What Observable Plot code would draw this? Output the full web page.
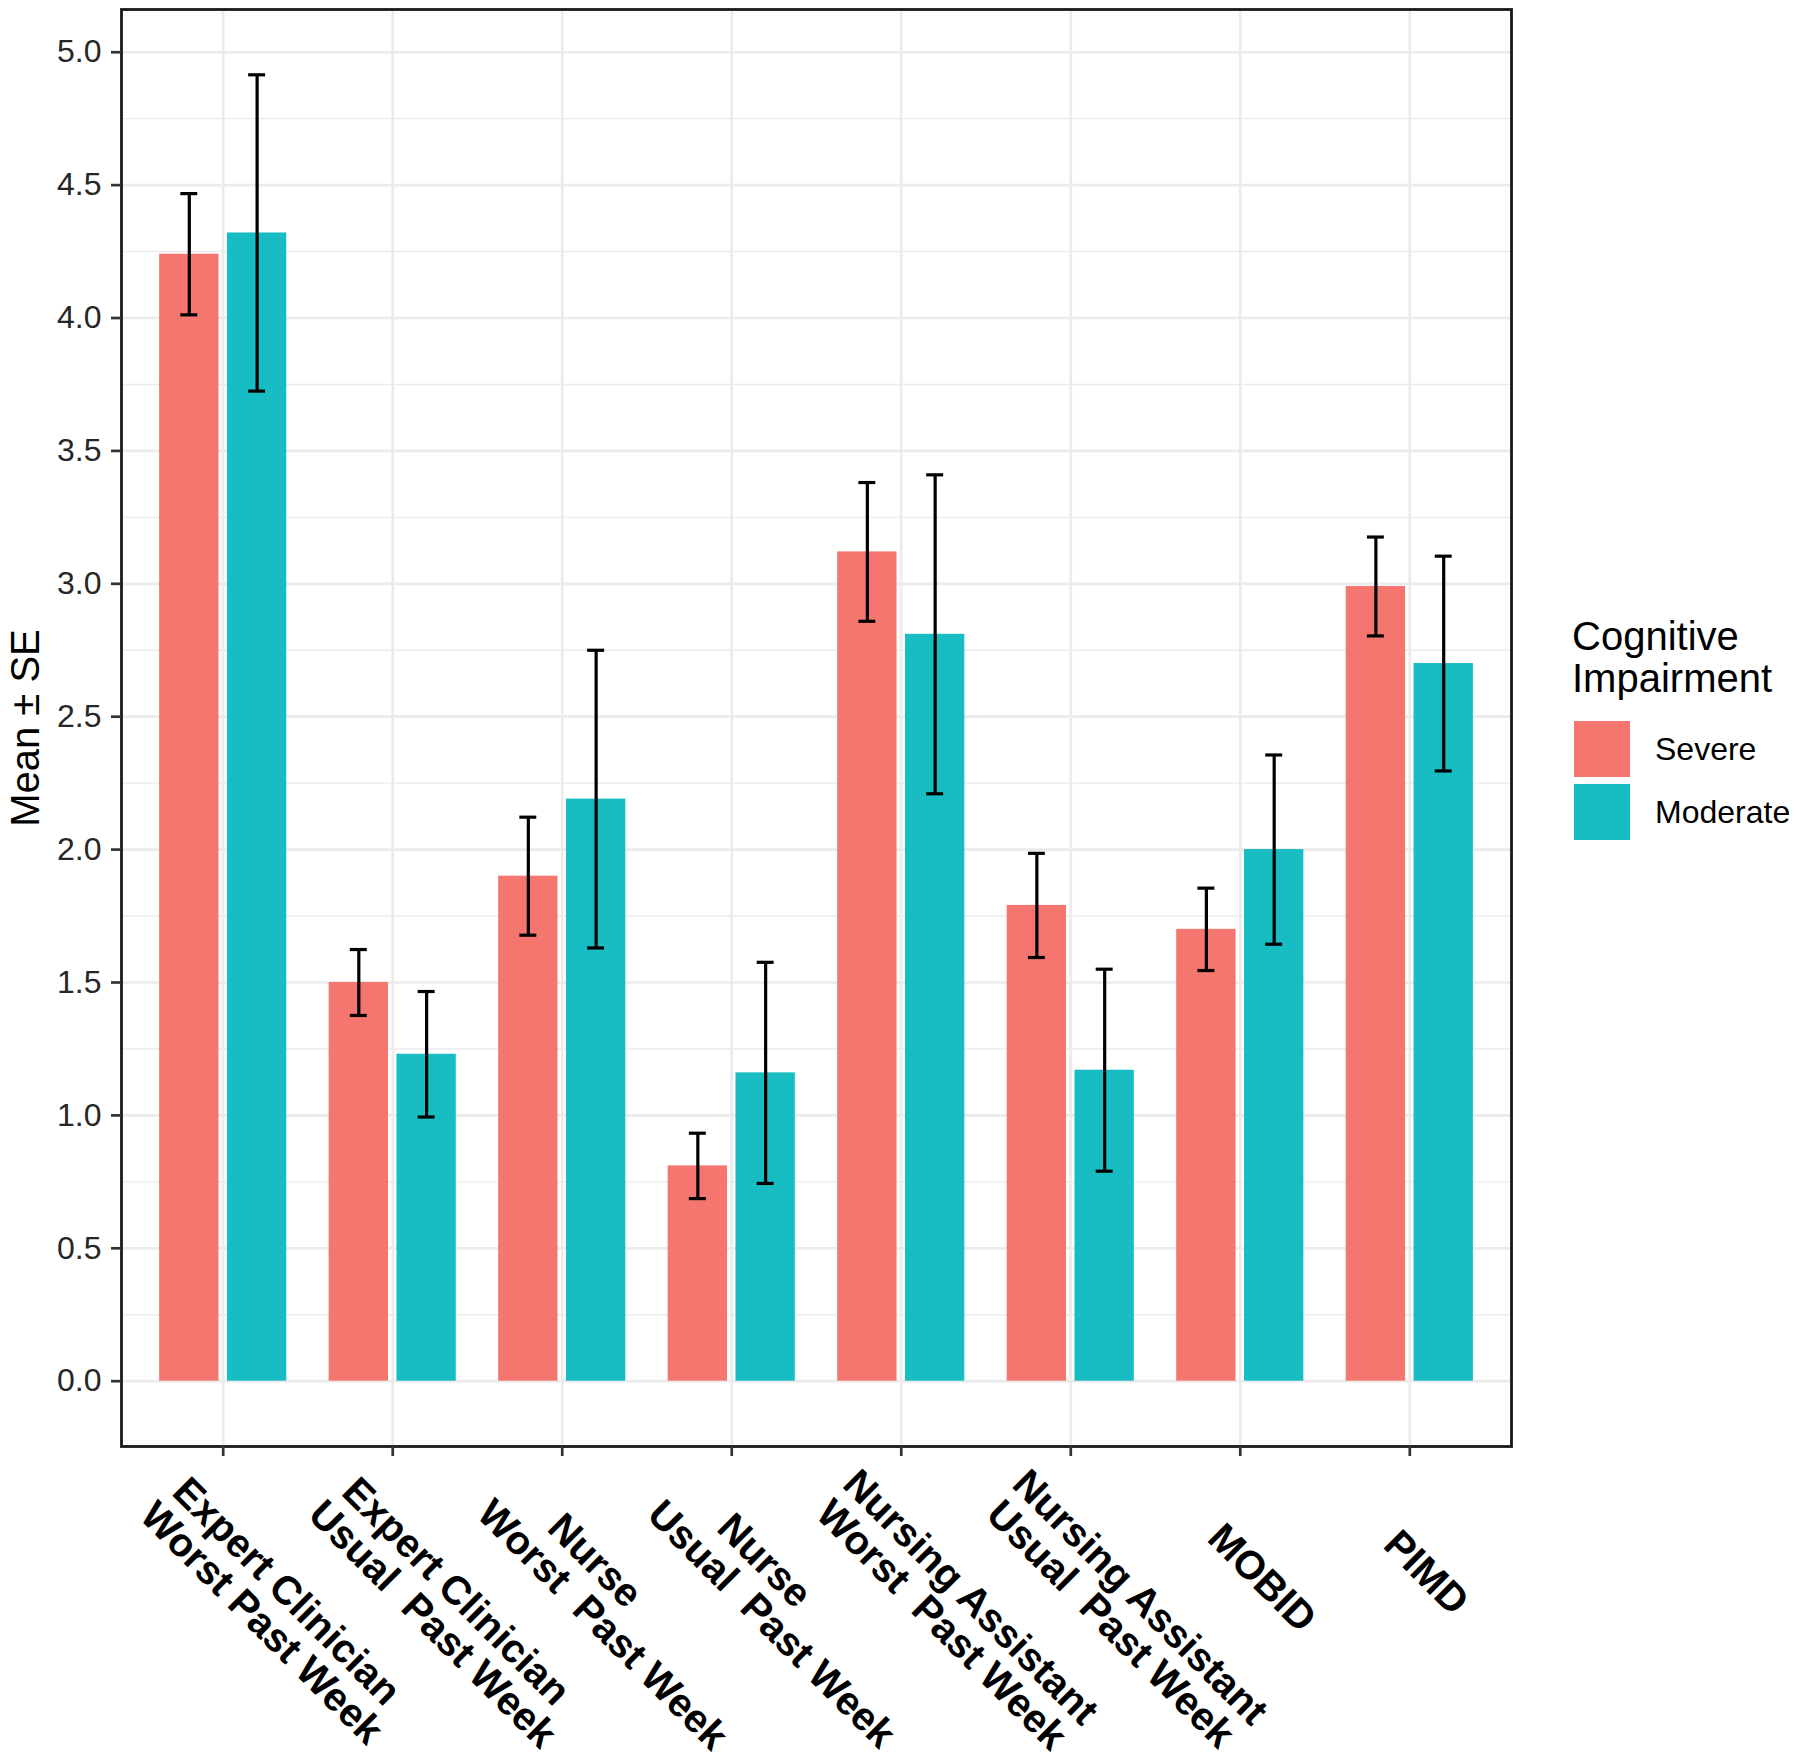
<!DOCTYPE html>
<html>
<head>
<meta charset="utf-8">
<script src="https://cdn.jsdelivr.net/npm/d3@7"></script>
<script src="https://cdn.jsdelivr.net/npm/@observablehq/plot@0.6"></script>
<style>
  html, body { margin: 0; padding: 0; background: #fff; }
  #wrap { position: relative; width: 1800px; height: 1759px; font-family: "Liberation Sans", Arial, sans-serif; }
  #chart { position: absolute; left: 0; top: 0; }
  svg text { white-space: pre; }
  #legend { position: absolute; left: 1572px; top: 615px; color: #000; }
  #legend .title { font-size: 40px; line-height: 42px; }
  #legend .row { display: flex; align-items: center; height: 56px; margin-top: 7px; }
  #legend .row:first-of-type { margin-top: 0; }
  #legend .key { width: 56px; height: 56px; margin-left: 2px; }
  #legend .lab { font-size: 32px; margin-left: 25px; }
</style>
</head>
<body>
<div id="wrap">
  <div id="chart"></div>
  <div id="legend"></div>
</div>
<script>
// ---------- data ----------
const categories = [
  "Expert Clinician\nWorst Past Week",
  "Expert Clinician\nUsual  Past Week",
  "Nurse\nWorst  Past Week",
  "Nurse\nUsual  Past Week",
  "Nursing Assistant\nWorst  Past Week",
  "Nursing Assistant\nUsual  Past Week",
  "MOBID",
  "PIMD"
];
const groups = ["Severe", "Moderate"];
const severeMean = [4.24, 1.50, 1.90, 0.81, 3.12, 1.79, 1.70, 2.99];
const severeSE   = [0.228, 0.124, 0.222, 0.123, 0.261, 0.196, 0.155, 0.186];
const moderateMean = [4.32, 1.23, 2.19, 1.16, 2.81, 1.17, 2.00, 2.70];
const moderateSE   = [0.595, 0.236, 0.56, 0.416, 0.60, 0.38, 0.356, 0.404];
const yTicks = [0, 0.5, 1.0, 1.5, 2.0, 2.5, 3.0, 3.5, 4.0, 4.5, 5.0];
const yMinorTicks = [0.25, 0.75, 1.25, 1.75, 2.25, 2.75, 3.25, 3.75, 4.25, 4.75];
const legendTitle = ["Cognitive", "Impairment"];
const yLabel = "Mean \u00B1 SE";

// ---------- styles ----------
const colors = ["#F4766E", "#17BDC2"];
const gridColor = "#EBEBEB";
const dodgeOffset = 0.2;   // half of dodge width 0.8 (data units)
const barHalf = 0.175;     // bar width 0.35
const capHalf = 0.05;      // errorbar width 0.1
const W = 1540, H = 1759;
const mL = 121, mR = 29, mT = 9, mB = 313;
const fontFamily = "'Liberation Sans', Arial, sans-serif";

// ---------- table ----------
const means = [severeMean, moderateMean];
const ses = [severeSE, moderateSE];
const rows = [];
categories.forEach((c, i) => {
  groups.forEach((g, k) => {
    rows.push({i: i + 1, cat: c, group: g, mean: means[k][i], se: ses[k][i], off: k === 0 ? -dodgeOffset : dodgeOffset});
  });
});
const yMax = d3.max(rows, d => d.mean + d.se);
const yExp = 0.05 * (yMax - 0);
const yDomain = [0 - yExp, yMax + yExp];
const xDomain = [1 - 0.6, categories.length + 0.6];

// ---------- x tick labels (rotated, ggplot-like justification) ----------
const ctx = document.createElement("canvas").getContext("2d");
const labelFont = 40;
ctx.font = `bold ${labelFont}px 'Liberation Sans'`;
const hjust = 0.27, lineH = 40, drop = 110, ang = 45 * Math.PI / 180;
const labelMarks = [];
categories.forEach((c, i) => {
  const lines = c.split("\n");
  lines.forEach((line, j) => {
    const w = ctx.measureText(line).width;
    const s = -hjust * w;
    const t = (j - (lines.length - 1) / 2) * lineH;
    const dx = s * Math.cos(ang) - t * Math.sin(ang);
    const dy = drop + s * Math.sin(ang) + t * Math.cos(ang);
    labelMarks.push(Plot.text([{x: i + 1, line}], {
      x: "x", text: "line", frameAnchor: "bottom", rotate: 45,
      textAnchor: "start", lineAnchor: "middle", dx, dy,
      fontSize: labelFont, fontWeight: "bold", fill: "#000"
    }));
  });
});

const chart = Plot.plot({
  width: W, height: H,
  marginLeft: mL, marginRight: mR, marginTop: mT, marginBottom: mB,
  style: {fontFamily, background: "white"},
  x: {domain: xDomain},
  y: {domain: yDomain},
  color: {domain: groups, range: colors},
  marks: [
    Plot.gridY(yMinorTicks, {stroke: gridColor, strokeOpacity: 1, strokeWidth: 1.4}),
    Plot.gridY(yTicks, {stroke: gridColor, strokeOpacity: 1, strokeWidth: 2.7}),
    Plot.gridX(d3.range(1, categories.length + 1), {stroke: gridColor, strokeOpacity: 1, strokeWidth: 2.7}),
    Plot.rect(rows, {
      x1: d => d.i + d.off - barHalf, x2: d => d.i + d.off + barHalf,
      y1: d => 0, y2: "mean", fill: "group"
    }),
    Plot.ruleX(rows, {x: d => d.i + d.off, y1: d => d.mean - d.se, y2: d => d.mean + d.se, stroke: "#000", strokeWidth: 3.2}),
    Plot.ruleY(rows, {x1: d => d.i + d.off - capHalf, x2: d => d.i + d.off + capHalf, y: d => d.mean + d.se, stroke: "#000", strokeWidth: 3.2}),
    Plot.ruleY(rows, {x1: d => d.i + d.off - capHalf, x2: d => d.i + d.off + capHalf, y: d => d.mean - d.se, stroke: "#000", strokeWidth: 3.2}),
    Plot.frame({stroke: "#1a1a1a", strokeWidth: 2.8}),
    Plot.axisY(yTicks, {
      tickFormat: d3.format(".1f"), tickSize: 10, tickPadding: 10,
      fontSize: 32, fill: "#262626", stroke: "#333", strokeWidth: 2.7, label: null
    }),
    Plot.axisX(d3.range(1, categories.length + 1), {
      tickSize: 10, tickFormat: () => "", stroke: "#333", strokeWidth: 2.7, label: null
    }),
    Plot.text([yLabel], {text: d => d, frameAnchor: "left", textAnchor: "middle", lineAnchor: "middle", rotate: -90, dx: -95, fontSize: 40, fill: "#000"}),
    ...labelMarks
  ]
});
document.getElementById("chart").appendChild(chart);

// ---------- legend ----------
const legend = document.getElementById("legend");
const title = document.createElement("div");
title.className = "title";
title.innerHTML = legendTitle.join("<br>");
legend.appendChild(title);
const keys = document.createElement("div");
keys.style.marginTop = "22px";
groups.forEach((g, k) => {
  const row = document.createElement("div");
  row.className = "row";
  const key = document.createElement("div");
  key.className = "key";
  key.style.background = colors[k];
  const lab = document.createElement("div");
  lab.className = "lab";
  lab.textContent = g;
  row.appendChild(key);
  row.appendChild(lab);
  keys.appendChild(row);
});
legend.appendChild(keys);
</script>
</body>
</html>
